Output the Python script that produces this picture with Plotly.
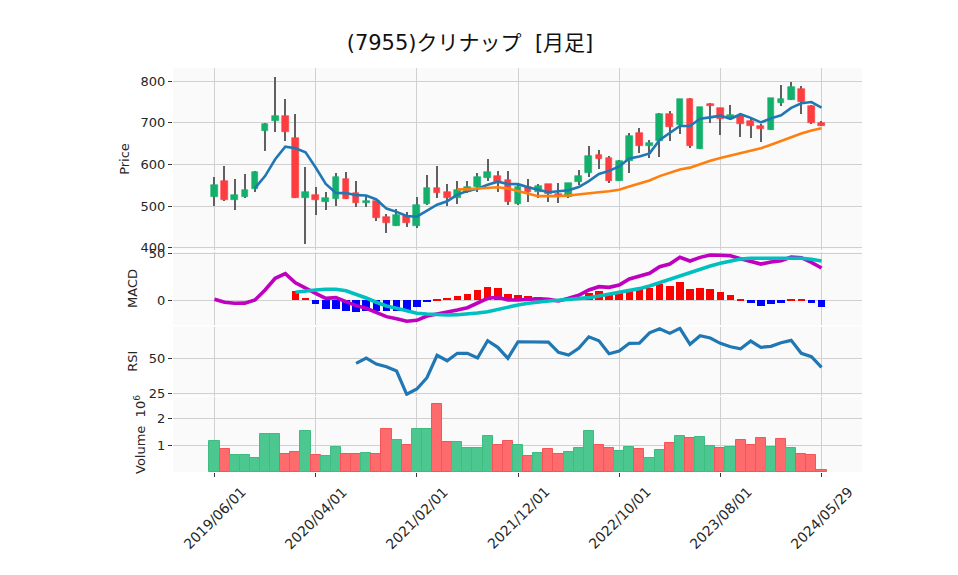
import plotly.graph_objects as go
import pandas as pd

# ---------------- data (monthly) ----------------
opens = [523, 560, 515, 523, 542, 681, 705, 716, 663, 520,
         527, 511, 518, 565, 531, 507, 512, 475, 453, 477,
         453, 505, 544, 534, 520, 535, 547, 568, 571, 563,
         505, 545, 535, 552, 530, 523, 557, 579, 622, 615,
         561, 607, 675, 643, 655, 721, 695, 756, 637, 745,
         735, 710, 716, 704, 692, 683, 748, 755, 782, 740, 700]
highs = [569, 597, 566, 576, 583, 700, 810, 758, 722, 593,
         545, 535, 579, 581, 559, 525, 512, 481, 493, 487,
         521, 574, 597, 554, 559, 559, 579, 612, 584, 584,
         551, 564, 553, 553, 555, 556, 587, 643, 634, 619,
         611, 675, 687, 659, 724, 727, 756, 759, 737, 747,
         735, 742, 723, 711, 697, 760, 790, 798, 788, 743, 703]
lows = [500, 513, 491, 519, 533, 632, 678, 655, 520, 409,
        479, 491, 500, 516, 497, 498, 465, 435, 453, 451,
        447, 502, 520, 500, 504, 532, 533, 559, 533, 503,
        503, 509, 520, 509, 507, 520, 551, 569, 590, 555,
        559, 580, 628, 615, 617, 655, 673, 639, 636, 699,
        671, 706, 665, 663, 653, 682, 740, 754, 721, 698, 693]
closes = [551, 515, 527, 539, 582, 697, 716, 678, 520, 533,
          515, 520, 570, 518, 508, 512, 472, 460, 479, 459,
          503, 544, 532, 520, 539, 547, 569, 581, 557, 511,
          545, 533, 549, 528, 524, 555, 572, 620, 614, 561,
          609, 668, 643, 651, 722, 689, 756, 643, 737, 739,
          710, 718, 698, 693, 684, 759, 756, 785, 749, 699, 693]
volume_millions = [1.15, 0.84, 0.63, 0.63, 0.51, 1.41, 1.41, 0.67, 0.74, 1.52,
                   0.63, 0.59, 0.93, 0.67, 0.67, 0.70, 0.67, 1.58, 1.19, 1.00,
                   1.58, 1.58, 2.52, 1.11, 1.11, 0.89, 0.89, 1.33, 1.00, 1.15,
                   1.00, 0.59, 0.70, 0.85, 0.67, 0.74, 0.89, 1.52, 1.00, 0.89,
                   0.78, 0.93, 0.85, 0.52, 0.81, 1.07, 1.33, 1.26, 1.30, 0.96,
                   0.89, 0.93, 1.19, 1.00, 1.26, 0.93, 1.22, 0.89, 0.67, 0.63, 0.07]
macd_line = [1, -2.1, -3.2, -3, 0.3, 11, 23.4, 28.3, 18.7, 12.8,
             7.4, 2.1, 2.8, -1.5, -5.7, -8.5, -13.2, -17.4, -19.6, -22.3,
             -21.3, -16.7, -14.6, -12.8, -10.3, -7.9, -2.5, 2.1, 3.2, 0.3,
             0.3, 1, 1.7, 1, -0.7, 2.1, 5.3, 11, 14.5, 13.8,
             16.3, 22.7, 25.9, 28.7, 35.8, 38.6, 45.7, 41.8, 45.7, 48.2,
             48, 47.4, 44.3, 41.5, 38.6, 40.7, 42.1, 46.1, 45.3, 40.4, 34.4]
macd_signal = [None, None, None, None, None, None, None, None, 8.5, 10.2,
               11, 11.7, 11.7, 10.2, 6.7, 2.4, -2.1, -6.1, -8.5, -11.4,
               -13.8, -14.6, -15.3, -15.6, -15.3, -14.6, -13.6, -12.1, -9.6, -6.8,
               -5, -3.2, -1.8, -0.7, 0, 0.7, 1.4, 2.8, 4.6, 6.4,
               8.1, 10.2, 12.4, 15.2, 18.7, 23, 26.6, 29.4, 33, 36.5,
               39.4, 41.8, 43.9, 44.7, 44.7, 44.7, 44.7, 44.7, 44.7, 43.6, 41.8]
rsi14 = [None] * 14 + [46.3, 50, 45.8, 43.9, 40.9, 24.6, 28.3, 36.2, 51.9, 48.1,
                       53.3, 53.3, 50, 62.1, 57.5, 49.8, 61.4, 61.2, 61.2, 61.2,
                       54, 52.1, 56.8, 64.9, 62.1, 53, 54.9, 60.3, 60.5, 67.7,
                       70.5, 67.3, 70.8, 59.6, 65.6, 64, 60.3, 57.9, 56.5, 61.9,
                       57.5, 58.2, 60.7, 62.4, 53.3, 50.9, 43.5]
x_tick_labels = ["2019/06/01", "2020/04/01", "2021/02/01", "2021/12/01",
                 "2022/10/01", "2023/08/01", "2024/05/29"]
title_text = "(7955)クリナップ  [月足]"

# ---------------- derived ----------------
n = len(closes)
idx = list(range(n))
tick_pos = list(range(0, n, 10))
ma5 = pd.Series(closes).rolling(5).mean()
ma25 = pd.Series(closes).rolling(25).mean()
hist = [None if s is None else m - s for m, s in zip(macd_line, macd_signal)]

UP, DOWN = "#13b06c", "#fe3d40"
VUP, VDOWN = "#4dc790", "#fd6b6c"
body_colors = [UP if c >= o else DOWN for o, c in zip(opens, closes)]
vol_colors = [VUP] + [VUP if closes[i] >= closes[i - 1] else VDOWN for i in range(1, n)]
vol_edges = ["#3ebd83" if c == VUP else "#f65456" for c in vol_colors]
hist_colors = ["#ff0000" if (h is not None and h >= 0) else "#0000ff" for h in hist]

fig = go.Figure()

# wicks
fig.add_trace(go.Bar(x=idx, base=lows, y=[h - l for h, l in zip(highs, lows)],
                     width=0.13, marker=dict(color="#606060", line=dict(width=0)),
                     xaxis="x", yaxis="y", showlegend=False))
# bodies
fig.add_trace(go.Bar(x=idx, base=[min(o, c) for o, c in zip(opens, closes)],
                     y=[max(abs(c - o), 1.0) for o, c in zip(opens, closes)],
                     width=0.66, marker=dict(color=body_colors, line=dict(color=body_colors, width=0.6)),
                     xaxis="x", yaxis="y", showlegend=False))
fig.add_trace(go.Scatter(x=idx, y=ma5, mode="lines", line=dict(color="#1f77b4", width=2.6),
                         xaxis="x", yaxis="y", showlegend=False))
fig.add_trace(go.Scatter(x=idx, y=ma25, mode="lines", line=dict(color="#ff7f0e", width=2.6),
                         xaxis="x", yaxis="y", showlegend=False))

# MACD panel
fig.add_trace(go.Bar(x=idx, y=hist, width=0.75, marker=dict(color=hist_colors, line=dict(width=0)),
                     xaxis="x2", yaxis="y2", showlegend=False))
fig.add_trace(go.Scatter(x=idx, y=macd_line, mode="lines", line=dict(color="#bf00bf", width=3.6),
                         xaxis="x2", yaxis="y2", showlegend=False))
fig.add_trace(go.Scatter(x=idx, y=macd_signal, mode="lines", line=dict(color="#00bfbf", width=3.6),
                         xaxis="x2", yaxis="y2", showlegend=False))

# RSI panel
fig.add_trace(go.Scatter(x=idx, y=rsi14, mode="lines", line=dict(color="#1f77b4", width=3.2),
                         xaxis="x3", yaxis="y3", showlegend=False))

# Volume panel
fig.add_trace(go.Bar(x=idx, y=volume_millions, width=1.0,
                     marker=dict(color=vol_colors, line=dict(color=vol_edges, width=1)),
                     xaxis="x4", yaxis="y4", showlegend=False))

# page has an 8px body margin: lay out in page pixels, converted to figure fractions
OFF = 8
W, H = 958 - 2 * OFF, 575 - 2 * OFF

def py(top_px, bot_px):
    return [1 - (bot_px - OFF) / H, 1 - (top_px - OFF) / H]

def px_x(x):
    return (x - OFF) / W

def px_y(y):
    return 1 - (y - OFF) / H

xdom = [px_x(173), px_x(862)]
xr = [-4.1, 64.0]
grid = "#d0d0d0"
tickfont = dict(family="DejaVu Sans", size=13, color="#262626")
xtickfont = dict(family="DejaVu Sans", size=14, color="#262626")
titlefont = dict(family="DejaVu Sans", size=13, color="#262626")

def xax(anchor, ticks=""):
    return dict(domain=xdom, range=xr, anchor=anchor, tickvals=tick_pos, showticklabels=False,
                showgrid=True, gridcolor=grid, gridwidth=1.2, zeroline=False, ticks=ticks,
                ticklen=4, tickcolor="#333", showline=False, fixedrange=True)

def yax(anchor, dom, rng, tv, tt, title):
    return dict(domain=dom, range=rng, anchor=anchor, tickvals=tv, ticktext=tt,
                showgrid=True, gridcolor=grid, gridwidth=1.2, zeroline=False, ticks="outside",
                ticklen=4, tickcolor="#333", tickfont=tickfont, showline=False,
                title=dict(text=title, font=titlefont, standoff=8), automargin=False)

annotations = []
for p, lab in zip(tick_pos, x_tick_labels):
    annotations.append(dict(x=p, y=px_y(517.5), xref="x4", yref="paper", text=lab,
                            showarrow=False, textangle=-45, xanchor="center", yanchor="middle",
                            font=xtickfont))

fig.update_layout(
    width=W, height=H,
    margin=dict(l=0, r=0, t=0, b=0),
    paper_bgcolor="white", plot_bgcolor="#fafafa",
    barmode="overlay", bargap=0,
    title=dict(text=title_text, x=px_x(470), y=px_y(43), xanchor="center", yanchor="middle",
               font=dict(family="DejaVu Sans, Noto Sans CJK JP", size=21, color="#111")),
    xaxis=xax("y"), xaxis2=xax("y2"), xaxis3=xax("y3"), xaxis4=xax("y4", ticks="outside"),
    yaxis=yax("x", py(68, 250), [394.7, 831.2], [400, 500, 600, 700, 800],
              ["400", "500", "600", "700", "800"], "Price"),
    yaxis2=yax("x2", py(252, 325), [-26.3, 51.4], [0, 50], ["0", "50"], "MACD"),
    yaxis3=yax("x3", py(326.5, 396), [23.4, 72.1], [25, 50], ["25", "50"], "RSI"),
    yaxis4=yax("x4", py(397, 472), [0, 2.78], [1, 2], ["1", "2"], "Volume  10<sup>6</sup>"),
    annotations=annotations,
    showlegend=False,
)

fig.write_html("out.html")
